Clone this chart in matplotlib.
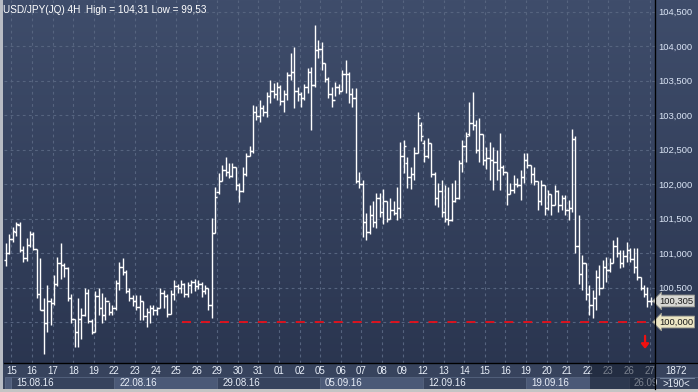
import numpy as np
import matplotlib
matplotlib.use('Agg')
import matplotlib.pyplot as plt
from matplotlib.patches import Rectangle
from matplotlib.colors import LinearSegmentedColormap
from matplotlib.transforms import blended_transform_factory, IdentityTransform

# 4H bars, USD/JPY, 12.08.16 .. 26.09.16
high = [101.14, 101.28, 101.38, 101.45, 101.45, 101.10, 101.22, 101.32, 101.30, 101.06,
        100.93, 100.35, 100.54, 100.35, 100.68, 100.94, 101.14, 100.85, 100.80, 100.40,
        100.05, 100.35, 100.20, 100.50, 100.48, 100.05, 100.45, 100.50, 100.42, 100.36,
        100.29, 100.25, 100.61, 100.87, 100.93, 100.76, 100.50, 100.39, 100.39, 100.39,
        100.30, 100.20, 100.25, 100.25, 100.22, 100.50, 100.46, 100.40, 100.46, 100.61,
        100.55, 100.61, 100.56, 100.58, 100.61, 100.62, 100.61, 100.58, 100.54, 100.50,
        101.51, 101.96, 102.16, 102.28, 102.39, 102.30, 102.30, 102.25, 102.01, 102.25,
        102.45, 102.55, 103.15, 103.13, 103.22, 103.15, 103.33, 103.51, 103.46, 103.48,
        103.43, 103.36, 103.62, 103.90, 103.99, 103.40, 103.33, 103.45, 103.68, 103.70,
        104.31, 104.09, 104.06, 103.75, 103.55, 103.41, 103.48, 103.45, 103.65, 103.80,
        103.62, 103.39, 103.39, 102.17, 102.06, 101.58, 101.70, 101.75, 101.87, 101.87,
        101.93, 101.75, 101.80, 101.75, 101.96, 102.61, 102.64, 102.39, 102.25, 102.54,
        103.04, 102.90, 102.64, 102.67, 102.60, 102.18, 102.01, 102.06, 101.99, 101.96,
        102.01, 102.06, 102.35, 102.64, 102.75, 103.19, 103.33, 102.93, 102.96, 102.72,
        102.54, 102.61, 102.54, 102.49, 102.74, 102.28, 102.18, 102.01, 102.13, 102.08,
        102.20, 102.45, 102.45, 102.28, 102.25, 102.05, 102.06, 101.99, 101.91, 101.85,
        101.99, 101.91, 101.84, 101.84, 101.77, 102.80, 102.70, 101.55, 100.97, 100.85,
        100.54, 100.46, 100.75, 100.83, 100.90, 100.94, 100.93, 101.19, 101.23, 101.05,
        101.04, 101.16, 101.07, 101.07, 101.07, 100.65, 100.54, 100.51, 100.36]
low = [100.81, 100.98, 101.16, 101.25, 101.02, 100.87, 100.88, 101.08, 101.05, 100.35,
       100.17, 99.53, 99.85, 99.95, 100.25, 100.52, 100.62, 100.65, 100.30, 99.98,
       99.64, 99.64, 99.76, 100.08, 99.98, 99.82, 99.85, 100.10, 99.98, 100.03,
       100.10, 100.10, 100.18, 100.46, 100.68, 100.42, 100.30, 100.23, 100.18, 100.03,
       100.03, 99.93, 99.99, 100.10, 100.10, 100.20, 100.20, 100.07, 100.12, 100.32,
       100.42, 100.42, 100.36, 100.36, 100.42, 100.45, 100.48, 100.36, 100.40, 100.17,
       100.06, 101.29, 101.85, 102.05, 102.12, 102.09, 102.10, 101.91, 101.74, 101.88,
       102.12, 102.40, 102.45, 102.93, 102.90, 102.98, 102.97, 103.17, 103.25, 103.22,
       103.15, 103.05, 103.22, 103.51, 103.10, 103.20, 103.12, 103.22, 103.32, 102.78,
       103.41, 103.83, 103.65, 103.48, 103.25, 103.12, 103.28, 103.30, 103.35, 103.32,
       103.18, 103.12, 102.01, 101.94, 101.23, 101.19, 101.28, 101.38, 101.36, 101.52,
       101.42, 101.45, 101.50, 101.55, 101.48, 101.51, 102.16, 101.94, 101.93, 102.06,
       102.45, 102.62, 102.32, 102.38, 102.10, 101.70, 101.67, 101.52, 101.45, 101.41,
       101.47, 101.74, 101.78, 102.17, 102.32, 102.70, 102.78, 102.45, 102.32, 102.28,
       102.22, 102.06, 101.91, 102.06, 101.91, 102.13, 101.70, 101.85, 101.87, 101.95,
       101.77, 102.01, 102.23, 102.01, 101.99, 101.62, 101.70, 101.55, 101.62, 101.55,
       101.70, 101.60, 101.62, 101.55, 101.48, 101.60, 101.00, 100.55, 100.46, 100.32,
       100.10, 100.06, 100.17, 100.39, 100.50, 100.58, 100.72, 100.85, 100.94, 100.78,
       100.80, 100.87, 100.87, 100.71, 100.61, 100.46, 100.36, 100.22, 100.25]
open_ = [100.90, 101.00, 101.21, 101.30, 101.40, 101.05, 100.93, 101.12, 101.28, 101.06,
         100.40, 100.18, 99.98, 100.30, 100.28, 100.55, 100.85, 100.82, 100.78, 100.35,
         100.05, 99.85, 100.05, 100.10, 100.42, 100.02, 99.85, 100.38, 100.20, 100.10,
         100.30, 100.15, 100.20, 100.56, 100.80, 100.72, 100.45, 100.35, 100.30, 100.22,
         100.30, 100.08, 100.15, 100.20, 100.18, 100.20, 100.42, 100.38, 100.12, 100.40,
         100.52, 100.50, 100.55, 100.40, 100.54, 100.58, 100.52, 100.55, 100.45, 100.50,
         100.25, 101.29, 101.88, 102.05, 102.20, 102.18, 102.12, 102.25, 101.98, 101.90,
         102.15, 102.40, 102.48, 103.05, 102.98, 103.10, 103.05, 103.28, 103.35, 103.30,
         103.40, 103.20, 103.30, 103.58, 103.62, 103.35, 103.30, 103.25, 103.40, 103.62,
         103.43, 103.94, 103.95, 103.75, 103.52, 103.30, 103.22, 103.40, 103.35, 103.60,
         103.60, 103.30, 103.25, 102.05, 102.00, 101.45, 101.30, 101.55, 101.45, 101.80,
         101.60, 101.75, 101.50, 101.62, 101.58, 101.65, 102.40, 102.30, 102.10, 102.15,
         102.45, 102.85, 102.60, 102.40, 102.60, 102.15, 101.80, 101.90, 101.60, 101.50,
         101.48, 101.75, 101.80, 102.30, 102.55, 102.72, 102.88, 102.85, 102.50, 102.72,
         102.35, 102.38, 102.35, 102.32, 102.20, 102.25, 102.18, 101.85, 101.92, 102.00,
         101.98, 102.10, 102.35, 102.28, 102.15, 102.05, 101.75, 101.98, 101.65, 101.85,
         101.70, 101.90, 101.70, 101.80, 101.62, 101.65, 102.65, 101.10, 100.70, 100.85,
         100.40, 100.25, 100.35, 100.65, 100.50, 100.80, 100.75, 100.85, 101.10, 101.00,
         100.85, 100.95, 101.05, 100.92, 100.80, 100.65, 100.50, 100.40, 100.30]
close = [101.00, 101.21, 101.32, 101.42, 101.05, 100.93, 101.12, 101.28, 101.06, 100.40,
         100.18, 99.98, 100.30, 100.28, 100.55, 100.85, 100.82, 100.78, 100.35, 100.05,
         99.85, 100.05, 100.10, 100.42, 100.02, 99.85, 100.38, 100.20, 100.10, 100.30,
         100.15, 100.20, 100.56, 100.80, 100.72, 100.45, 100.35, 100.30, 100.22, 100.30,
         100.08, 100.15, 100.20, 100.18, 100.20, 100.42, 100.38, 100.12, 100.40, 100.52,
         100.50, 100.55, 100.40, 100.54, 100.58, 100.52, 100.55, 100.45, 100.50, 100.25,
         101.29, 101.81, 102.05, 102.20, 102.18, 102.12, 102.25, 101.98, 101.90, 102.15,
         102.40, 102.48, 103.05, 102.98, 103.10, 103.05, 103.28, 103.35, 103.30, 103.40,
         103.20, 103.30, 103.58, 103.62, 103.35, 103.30, 103.25, 103.40, 103.62, 103.43,
         103.94, 103.95, 103.75, 103.52, 103.30, 103.22, 103.40, 103.35, 103.60, 103.60,
         103.30, 103.25, 102.05, 102.00, 101.45, 101.30, 101.55, 101.45, 101.80, 101.60,
         101.75, 101.50, 101.62, 101.58, 101.65, 102.40, 102.55, 102.10, 102.15, 102.45,
         102.95, 102.70, 102.40, 102.60, 102.15, 101.80, 101.90, 101.60, 101.50, 101.48,
         101.75, 101.80, 102.30, 102.55, 102.70, 102.88, 102.85, 102.50, 102.72, 102.35,
         102.38, 102.35, 102.32, 102.20, 102.25, 102.18, 101.85, 101.92, 102.00, 101.98,
         102.10, 102.35, 102.28, 102.15, 102.05, 101.75, 101.98, 101.65, 101.85, 101.70,
         101.90, 101.70, 101.80, 101.62, 101.65, 102.65, 101.10, 100.70, 100.85, 100.40,
         100.25, 100.35, 100.65, 100.50, 100.80, 100.75, 100.85, 101.10, 101.00, 100.85,
         100.95, 101.05, 100.92, 100.80, 100.65, 100.50, 100.40, 100.30, 100.305]

days = ['15', '16', '17', '18', '19', '22', '23', '24', '25', '26',
        '29', '30', '31', '01', '02', '05', '06', '07', '08', '09',
        '12', '13', '14', '15', '16', '19', '20', '21', '22', '23', '26', '27']
weeks = ['15.08.16', '22.08.16', '29.08.16', '05.09.16', '12.09.16', '19.09.16', '26.09']
price_ticks = [100.0, 100.5, 101.0, 101.5, 102.0, 102.5, 103.0, 103.5, 104.0, 104.5]
last_price = 100.305
alert_price = 100.0
bar_count = 1872
visible = 190

W, H = 698, 392
fig = plt.figure(figsize=(W / 100, H / 100), dpi=100)
plt.rcParams['font.family'] = ['Liberation Sans', 'DejaVu Sans']

# background gradient over the whole picture
bg = fig.add_axes([0, 0, 1, 1], zorder=-10)
cmap = LinearSegmentedColormap.from_list('bg', ['#29344e', '#3f4d6b'])
bg.imshow(np.linspace(0, 1, 256).reshape(-1, 1), aspect='auto', cmap=cmap,
          extent=[0, 1, 0, 1], origin='lower')
bg.add_patch(Rectangle((0, 3 / H), 1, 26 / H, fc='#37435d', lw=0))
bg.set_xlim(0, 1)
bg.set_ylim(0, 1)
bg.set_axis_off()

ax = fig.add_axes([4 / W, 29 / H, 651 / W, 363 / H])
ax.set_facecolor('none')
n = len(close)
x = np.arange(n)
ax.set_xlim(-0.58, 189.2)
ax.set_ylim(99.406, 104.667)

# grid
for p in price_ticks:
    ax.axhline(p, color='#56647f', lw=0.8, ls=(0, (2.5, 3)), zorder=1)
day_pos = [1.6 + 6 * k for k in range(len(days))]
for d in day_pos:
    ax.axvline(d, color='#56647f', lw=0.8, ls=(0, (2.5, 3)), zorder=1)

# OHLC bars
ax.vlines(x, low, high, color='white', lw=1.0, zorder=3)
ax.hlines(open_, x - 0.65, x, color='white', lw=1.0, zorder=3)
ax.hlines(close, x, x + 0.65, color='white', lw=1.0, zorder=3)

# alert line and arrow
ax.hlines(alert_price, 51.3, 189.2, color='#e8101a', lw=1.3, ls=(0, (5, 5.5)), zorder=2)
ax.annotate('', xy=(186.3, 99.61), xytext=(186.3, 99.80),
            arrowprops=dict(arrowstyle='-|>,head_width=0.22,head_length=0.28',
                            color='#f01010', lw=1.6, shrinkA=0, shrinkB=0))

# axes / labels (the 100,000 level is shown by its tag)
ax.yaxis.tick_right()
ax.set_yticks(price_ticks, ['' if p == alert_price else f'{p:.3f}'.replace('.', ',')
                            for p in price_ticks])
ax.tick_params(axis='y', length=0, pad=2.5, labelsize=6.8, labelcolor='#dbe5f5')
ax.set_xticks(day_pos, days)
ax.tick_params(axis='x', length=0, pad=2.5, labelsize=7, labelcolor='#e8eef8')
for s in ['top', 'left']:
    ax.spines[s].set_visible(False)
ax.spines['right'].set_color('black')
ax.spines['bottom'].set_color('black')

clip = Rectangle((0, 0), 655, H, transform=IdentityTransform())

# price tags
for price, fc in [(last_price, '#d6d6d2'), (alert_price, '#ece6c4')]:
    ax.annotate(f'{price:.3f}'.replace('.', ','), xy=(1.0, price),
                xycoords=('axes fraction', 'data'), xytext=(4, 0),
                textcoords='offset pixels', va='center', ha='left',
                fontsize=6.8, color='#1a1a1a', annotation_clip=False, zorder=6,
                bbox=dict(boxstyle='larrow,pad=0.15', fc=fc, ec='#9a9a90', lw=0.6))

# bottom panel: week boxes
tr = blended_transform_factory(ax.transData, ax.transAxes)
y0 = (363 - 389) / 363
hbox = 12 / 363
ax.add_patch(Rectangle((-0.3, y0), 1.9, hbox, transform=tr, clip_on=False,
                       fc='#4f5d7b', ec='#5c6a86', lw=0.6))
for k, wk in enumerate(weeks):
    start = day_pos[0] + 30 * k
    fc = '#4b5977' if k % 2 == 1 else '#37435d'
    ax.add_patch(Rectangle((start, y0), 30, hbox, transform=tr, clip_on=False,
                           fc=fc, ec='#56647f', lw=0.6, zorder=0))
    t = ax.text(start + 1.4, y0 + hbox / 2, wk, transform=tr, fontsize=7,
                color='#e8eef8', va='center', ha='left', clip_on=False)
    t.set_clip_path(clip)
# greyed scroll region at the end
ax.add_patch(Rectangle((170.2, y0), 19.0, 26 / 363, transform=tr, clip_on=False,
                       fc='#101828', alpha=0.5, zorder=5, lw=0))

# separators
fig.add_artist(plt.Line2D([655 / W, 655 / W], [3 / H, 1], color='black', lw=0.9))
fig.add_artist(plt.Line2D([4 / W, 1], [29 / H, 29 / H], color='black', lw=0.9))
fig.add_artist(plt.Line2D([660 / W, 694 / W], [14 / H, 14 / H], color='#8090a8', lw=0.6))

# title and counters
fig.text(3 / W, 1 - 10 / H, 'USD/JPY(JQ) 4H  High = 104,31 Low = 99,53',
         fontsize=7.2, color='white', va='center', ha='left')
fig.text(676 / W, 1 - 371 / H, str(bar_count), fontsize=7, color='#e8eef8',
         ha='center', va='center')
fig.text(676 / W, 1 - 384 / H, f'>{visible}<', fontsize=7, color='#e8eef8',
         ha='center', va='center')

# light frame
fig.add_artist(Rectangle((0, 0), 3 / W, 1, transform=fig.transFigure, fc='#b8bcc4', lw=0))
fig.add_artist(Rectangle((0, 0), 1, 3 / H, transform=fig.transFigure, fc='#c4c4c4', lw=0))

fig.savefig('out.png', dpi=100)
